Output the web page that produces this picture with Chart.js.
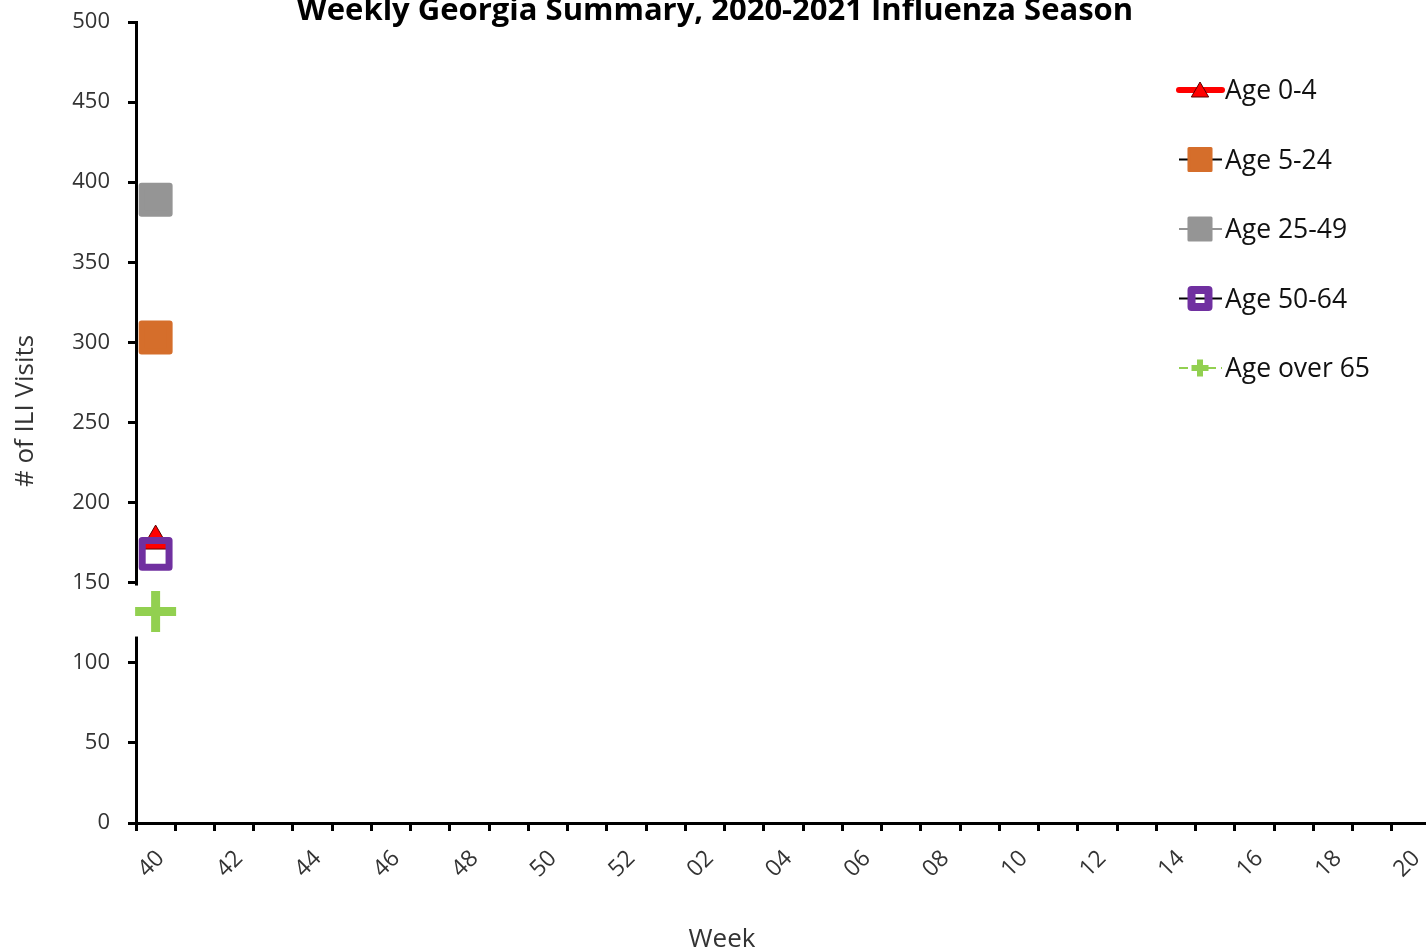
<!DOCTYPE html>
<html>
<head>
<meta charset="utf-8">
<script src="https://cdn.jsdelivr.net/npm/chart.js@4.4.1/dist/chart.umd.min.js"></script>
<style>
  html, body { margin: 0; padding: 0; overflow: hidden; background: #fff; }
</style>
</head>
<body>
<canvas id="chart" width="1445" height="949"></canvas>
<script>
// weeks of the 2020-2021 season
const weeks = ['40', '41', '42', '43', '44', '45', '46', '47', '48', '49', '50', '51', '52',
  '01', '02', '03', '04', '05', '06', '07', '08', '09', '10', '11', '12', '13', '14', '15',
  '16', '17', '18', '19', '20'];

// # of ILI visits, only week 40 reported so far
const age0to4 = [176];
const age5to24 = [303];
const age25to49 = [389];
const age50to64 = [168];
const ageOver65 = [132];

const yTicks = { min: 0, max: 500, step: 50 };

const FONT = "'Open Sans', sans-serif";
const TEXT = '#333333';

// marker sizes used in the legend (smaller than the plotted ones)
const legendMarkers = [
  { radius: 10, borderWidth: 1, dy: 2 },
  { radius: 15.6, borderWidth: 3 },
  { radius: 15.6, borderWidth: 3 },
  { radius: 12, borderWidth: 8 },
  { radius: 8.5, borderWidth: 6 }
];

const legendPlugin = {
  id: 'sideLegend',
  afterDraw(chart) {
    const ctx = chart.ctx;
    chart.data.datasets.forEach((ds, i) => {
      const y = 90 + i * 69.5;
      const m = legendMarkers[i];
      ctx.save();
      ctx.strokeStyle = ds.borderColor;
      ctx.lineWidth = ds.borderWidth;
      ctx.lineCap = ds.borderCapStyle || 'butt';
      ctx.setLineDash(ds.borderDash || []);
      ctx.beginPath();
      ctx.moveTo(1179, y);
      ctx.lineTo(1222, y);
      ctx.stroke();
      ctx.setLineDash([]);
      ctx.lineCap = 'butt';
      ctx.lineJoin = 'round';
      ctx.fillStyle = ds.pointBackgroundColor;
      ctx.strokeStyle = ds.pointBorderColor;
      ctx.lineWidth = m.borderWidth;
      Chart.helpers.drawPoint(ctx, {
        pointStyle: ds.pointStyle, radius: m.radius, rotation: 0, borderWidth: m.borderWidth
      }, 1200, y + (m.dy || 0));
      ctx.fillStyle = '#111';
      ctx.font = '26.5px ' + FONT;
      ctx.textAlign = 'left';
      ctx.textBaseline = 'alphabetic';
      ctx.fillText(ds.label, 1225, y + 9);
      ctx.restore();
    });
  }
};

// white box behind the "over 65" cross, it hides the axis under it;
// also rounds the marker corners
const plusBackdrop = {
  id: 'plusBackdrop',
  beforeDatasetsDraw(chart) {
    chart.ctx.lineJoin = 'round';
    const pt = chart.getDatasetMeta(4).data[0];
    if (!pt) return;
    chart.ctx.save();
    chart.ctx.fillStyle = '#fff';
    chart.ctx.fillRect(pt.x - 26, pt.y - 26, 52, 51);
    chart.ctx.restore();
  }
};

const titles = {
  id: 'titles',
  afterDraw(chart) {
    const ctx = chart.ctx;
    ctx.save();
    ctx.fillStyle = '#000';
    ctx.textAlign = 'center';
    ctx.textBaseline = 'alphabetic';
    ctx.font = 'bold 31px ' + FONT;
    ctx.fillText('Weekly Georgia Summary, 2020-2021 Influenza Season', 715, 20);
    ctx.fillStyle = TEXT;
    ctx.font = '26px ' + FONT;
    ctx.fillText('Week', 722, 947);
    ctx.translate(33, 411);
    ctx.rotate(-Math.PI / 2);
    ctx.fillText('# of ILI Visits', 0, 0);
    ctx.restore();
  }
};

new Chart(document.getElementById('chart'), {
  type: 'line',
  data: {
    labels: weeks,
    datasets: [
      {
        label: 'Age 0-4', data: age0to4, order: 10,
        borderColor: '#FF0000', borderWidth: 6, borderCapStyle: 'round',
        pointStyle: 'triangle', pointRadius: 16,
        pointBackgroundColor: '#FF0000', pointBorderColor: '#5a0000', pointBorderWidth: 1
      },
      {
        label: 'Age 5-24', data: age5to24, order: 0,
        borderColor: '#000000', borderWidth: 2,
        pointStyle: 'rect', pointRadius: 19.8,
        pointBackgroundColor: '#D56E2B', pointBorderColor: '#D56E2B', pointBorderWidth: 6
      },
      {
        label: 'Age 25-49', data: age25to49, order: 0,
        borderColor: '#959595', borderWidth: 2,
        pointStyle: 'rect', pointRadius: 19.8,
        pointBackgroundColor: '#959595', pointBorderColor: '#959595', pointBorderWidth: 6
      },
      {
        label: 'Age 50-64', data: age50to64, order: 0,
        borderColor: '#000000', borderWidth: 2,
        pointStyle: 'rect', pointRadius: 19,
        pointBackgroundColor: 'rgba(0,0,0,0)', pointBorderColor: '#7030A0', pointBorderWidth: 7
      },
      {
        label: 'Age over 65', data: ageOver65, order: 0,
        borderColor: '#92D050', borderWidth: 2, borderDash: [9, 5],
        pointStyle: 'cross', pointRadius: 20.5,
        pointBackgroundColor: '#92D050', pointBorderColor: '#92D050', pointBorderWidth: 9
      }
    ]
  },
  options: {
    responsive: false,
    animation: false,
    events: [],
    layout: { autoPadding: false, padding: { top: 22, right: 9, left: 0, bottom: 0 } },
    plugins: {
      legend: { display: false },
      title: { display: false },
      tooltip: { enabled: false }
    },
    scales: {
      x: {
        type: 'category',
        offset: true,
        grid: {
          offset: true, drawOnChartArea: false, drawTicks: true,
          tickLength: 8, tickWidth: 3, tickColor: '#000'
        },
        border: { display: true, color: '#000', width: 3 },
        ticks: {
          autoSkip: false, maxRotation: 45, minRotation: 45, padding: 14, labelOffset: 5,
          color: TEXT, font: { family: FONT, size: 23 },
          callback: (v, i) => (i % 2 === 0 ? weeks[i] : '')
        },
        afterFit: s => { s.height = 126; }
      },
      y: {
        min: yTicks.min,
        max: yTicks.max,
        grid: {
          drawOnChartArea: false, drawTicks: true,
          tickLength: 8, tickWidth: 3, tickColor: '#000'
        },
        border: { display: true, color: '#000', width: 3 },
        ticks: {
          stepSize: yTicks.step, padding: 18,
          color: TEXT, font: { family: FONT, size: 22 }
        },
        afterFit: s => { s.width = 136; s.paddingTop = 0; }
      }
    }
  },
  plugins: [plusBackdrop, legendPlugin, titles]
});
</script>
</body>
</html>
